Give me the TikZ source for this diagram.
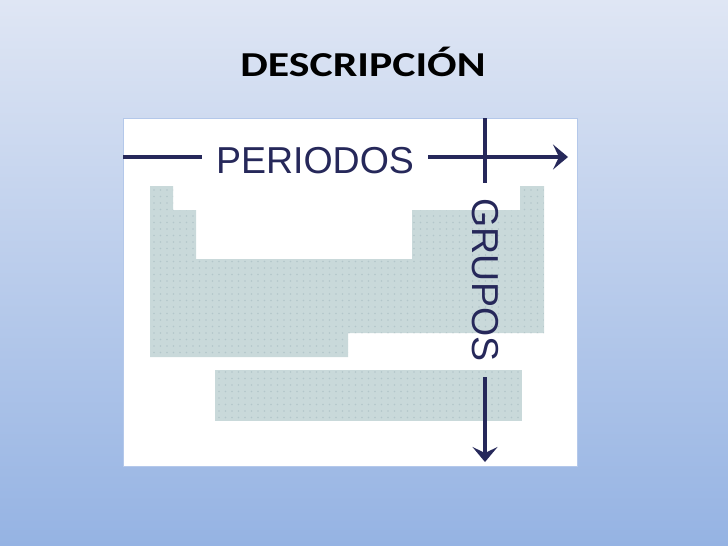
\documentclass[tikz,border=0pt]{standalone}
\usepackage{fontspec}
\setmainfont{Liberation Sans}
\newfontfamily\titlefont{Carlito}
\usetikzlibrary{arrows.meta}

\definecolor{slidetop}{HTML}{DFE6F4}
\definecolor{slidebottom}{HTML}{95B3E3}
\definecolor{panelrim}{HTML}{B4C8EA}
\definecolor{tablefill}{HTML}{C9D9DA}
\definecolor{tabledot}{HTML}{B3C6CA}
\definecolor{axisblue}{HTML}{26285A}

\begin{document}
\begin{tikzpicture}[%
		x=1pt, y=-1pt,
		panel/.style={
			rectangle,
			fill=white,
			draw=panelrim,
			line width=1pt,
			inner sep=0pt,
			anchor=north west
		},
		tableblock/.style={
			fill=tablefill
		},
		axislabel/.style={
			font=\fontsize{37.5}{40}\selectfont,
			text=axisblue,
			inner ysep=0pt,
			anchor=base
		},
		axisline/.style={
			line width=3.8pt,
			axisblue
		},
		axisarrow/.style={
			axisline,
			-{Stealth[length=15pt,width=25pt,inset=6pt]}
		}]

		% BACKGROUND

		\shade[top color=slidetop, bottom color=slidebottom] (0,0) rectangle (728,546);
		\useasboundingbox (0,0) rectangle (728,546);

		\node [font=\titlefont\bfseries\fontsize{35}{37}\selectfont, anchor=base] (title) at (363,76) {\scalebox{1.25}[1]{DESCRIPCIÓN}};

		\node [panel, minimum width=454pt, minimum height=348pt] (panel) at (123,118) {};

		% TABLE

		\fill[tableblock] (150,186) -- (173,186) -- (173,210) -- (196,210) -- (196,259) -- (412,259) -- (412,210) -- (520,210) -- (520,186) -- (544,186) -- (544,333) -- (348,333) -- (348,357) -- (150,357) -- cycle;
		\fill[tableblock] (215,370) rectangle (522,421);

		\begin{scope}
			\clip (150,186) -- (173,186) -- (173,210) -- (196,210) -- (196,259) -- (412,259) -- (412,210) -- (520,210) -- (520,186) -- (544,186) -- (544,333) -- (348,333) -- (348,357) -- (150,357) -- cycle
				(215,370) rectangle (522,421);
			\foreach \x in {154,160.5,...,544}
				\foreach \y in {190,196.5,...,421}
					\fill[tabledot] (\x,\y) circle (0.8pt);
		\end{scope}

		% AXES

		\coordinate (pstart) at (123,157);
		\coordinate (ptip) at (568,157);
		\coordinate (gtop) at (485,118);
		\coordinate (gtip) at (485,462);

		\node [axislabel, inner xsep=14pt] (periodos) at (315,173) {PERIODOS};
		\node [axislabel, inner xsep=16pt, rotate=-90] (grupos) at (472,280) {GRUPOS};

		\draw[axisline] (pstart) -- (pstart -| periodos.west);
		\draw[axisarrow] (pstart -| periodos.east) -- (ptip);
		\draw[axisline] (gtop) -- (gtop |- grupos.west);
		\draw[axisarrow] (gtop |- grupos.east) -- (gtip);
\end{tikzpicture}
\end{document}
